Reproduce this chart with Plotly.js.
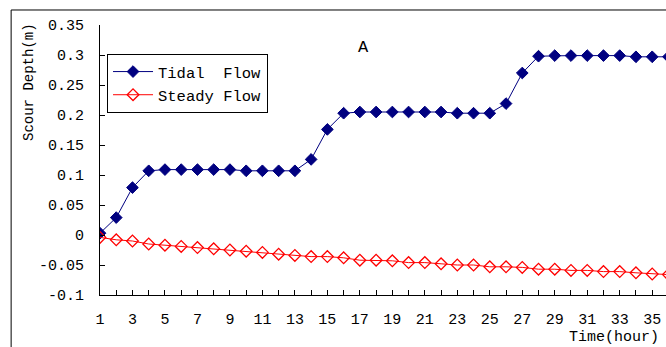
<!DOCTYPE html>
<html><head><meta charset="utf-8">
<script src="https://cdn.plot.ly/plotly-3.0.1.min.js"></script>
<style>html,body{margin:0;padding:0;background:#fff;}#chart{width:666px;height:347px;}</style>
</head><body><div id="chart"></div>
<script>
const hours = [1,2,3,4,5,6,7,8,9,10,11,12,13,14,15,16,17,18,19,20,21,22,23,24,25,26,27,28,29,30,31,32,33,34,35,36];
const tidalFlow = [0.003,0.029,0.079,0.107,0.109,0.109,0.109,0.109,0.109,0.107,0.107,0.107,0.107,0.126,0.176,0.203,0.205,0.205,0.205,0.205,0.205,0.205,0.203,0.203,0.203,0.219,0.27,0.298,0.299,0.299,0.299,0.299,0.299,0.297,0.297,0.297];
const steadyFlow = [-0.004,-0.008,-0.010,-0.015,-0.017,-0.019,-0.021,-0.023,-0.025,-0.027,-0.029,-0.032,-0.034,-0.036,-0.036,-0.038,-0.042,-0.042,-0.043,-0.046,-0.046,-0.048,-0.050,-0.050,-0.053,-0.053,-0.054,-0.057,-0.057,-0.059,-0.059,-0.061,-0.061,-0.063,-0.065,-0.066];
const yTickVals = [-0.1,-0.05,0,0.05,0.1,0.15,0.2,0.25,0.3,0.35];
const yTickText = ["-0.1","-0.05","0","0.05","0.1","0.15","0.2","0.25","0.3","0.35"];

const FONT = "Liberation Mono, DejaVu Sans Mono, monospace";
const traces = [
  {x: hours, y: tidalFlow, name: "Tidal  Flow", type: "scatter", mode: "lines+markers",
   line: {color: "#000080", width: 1},
   marker: {symbol: "diamond", size: 9, color: "#000080", line: {color: "#000080", width: 1}}},
  {x: hours, y: steadyFlow, name: "Steady Flow", type: "scatter", mode: "lines+markers",
   line: {color: "#ff0000", width: 1},
   marker: {symbol: "diamond-open", size: 9, color: "#ff0000", line: {color: "#ff0000", width: 1.3}}}
];
const layout = {
  width: 666, height: 347,
  margin: {l: 100, r: 0, t: 25, b: 52},
  paper_bgcolor: "#fff", plot_bgcolor: "#fff",
  font: {family: FONT, size: 15, color: "#000"},
  showlegend: true,
  legend: {x: 0.0124, y: 0.8926, xanchor: "left", yanchor: "top",
           bordercolor: "#000", borderwidth: 1, bgcolor: "#fff",
           font: {family: FONT, size: 15.5, color: "#000"}, tracegroupgap: 0, itemwidth: 40},
  xaxis: {range: [1, 35.85], showgrid: false, zeroline: false, showline: true, linecolor: "#000", linewidth: 1,
          ticks: "inside", ticklen: 5, tickcolor: "#000",
          tickmode: "array", tickvals: hours, ticktext: hours.map(h => (h % 2 === 1 ? String(h) : "")),
          ticklabelstandoff: 10, tickfont: {size: 15}},
  yaxis: {range: [-0.1, 0.35], showgrid: false, zeroline: false, showline: true, linecolor: "#000", linewidth: 1,
          ticks: "inside", ticklen: 5, tickcolor: "#000",
          tickmode: "array", tickvals: yTickVals, ticktext: yTickText,
          ticklabelstandoff: 12, tickfont: {size: 15}},
  shapes: [
    {type: "rect", xref: "paper", yref: "paper", x0: -0.157, x1: 1.2, y0: -0.5, y1: 1.0556,
     line: {color: "#000", width: 1}, fillcolor: "rgba(0,0,0,0)", layer: "below"}
  ],
  annotations: [
    {text: "A", xref: "paper", yref: "paper", x: 0.4647, y: 0.9185, xanchor: "center", yanchor: "middle",
     showarrow: false, font: {family: FONT, size: 17, color: "#000"}},
    {text: "Scour Depth(m)", xref: "paper", yref: "paper", x: -0.1263, y: 0.787, xanchor: "center", yanchor: "middle",
     textangle: -90, showarrow: false, font: {family: FONT, size: 14, color: "#000"}},
    {text: "Time(hour)", xref: "paper", yref: "paper", x: 0.825, y: -0.1556, xanchor: "left", yanchor: "middle",
     showarrow: false, font: {family: FONT, size: 15, color: "#000"}}
  ]
};
Plotly.newPlot("chart", traces, layout, {displayModeBar: false, staticPlot: true});
</script></body></html>
